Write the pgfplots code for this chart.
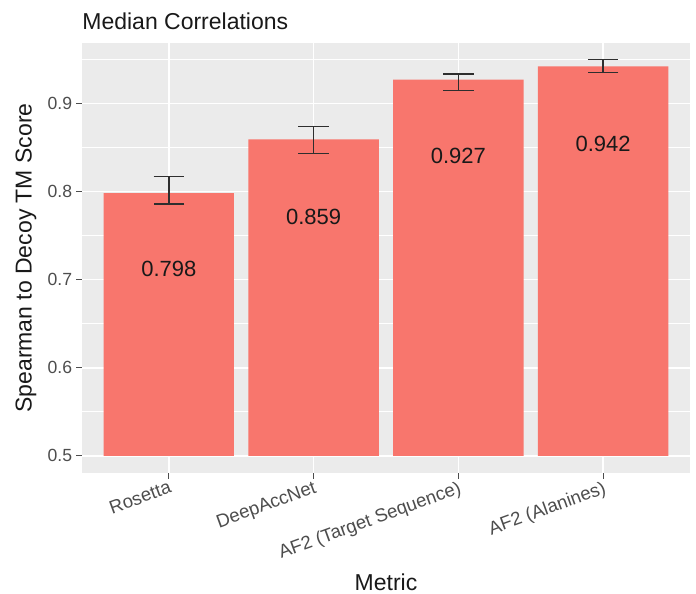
\documentclass[border=0pt]{standalone}
\usepackage{pgfplots}
\pgfplotsset{compat=1.18}
\usepackage{fontspec}
\setmainfont{Liberation Sans}
\definecolor{barc}{HTML}{F8766D}
\definecolor{panel}{HTML}{EBEBEB}
\definecolor{tickgrey}{HTML}{4D4D4D}
\definecolor{errc}{HTML}{2E2E2E}
\pgfplotsset{
  common/.style={
    scale only axis, width=304pt, height=215pt,
    xmin=0.4, xmax=4.6, ymin=0.4805, ymax=0.9685,
    clip=true,
  }
}
\begin{document}
\begin{tikzpicture}
\useasboundingbox (-41pt,-60.5pt) rectangle (307pt,236.5pt);
\begin{axis}[
  common,
  ybar stacked, bar width=0.9,
  axis background/.style={fill=panel},
  axis line style={draw=none},
  xtick={1,2,3,4},
  xticklabels={Rosetta,DeepAccNet,AF2 (Target Sequence),AF2 (Alanines)},
  ytick={0.5,0.6,0.7,0.8,0.9},
  yticklabels={0.5,0.6,0.7,0.8,0.9},
  minor ytick={0.55,0.65,0.75,0.85,0.95},
  xtick pos=lower, ytick pos=left,
  grid=both,
  major grid style={white, line width=0.8pt},
  minor grid style={white, line width=0.4pt},
  tick style={tickgrey, line width=0.5pt},
  tick align=outside, major tick length=2.75pt, minor tick length=0pt,
  ticklabel style={text=tickgrey},
  x tick label style={rotate=20, anchor=north east, inner sep=0.5pt, font=\fontsize{9.3}{10}\selectfont},
  y tick label style={inner sep=2pt, font=\fontsize{8.8}{10}\selectfont},
  title={Median Correlations},
  title style={at={(axis description cs:0,1)}, anchor=base west, inner sep=0pt, yshift=1pt, font=\fontsize{11.5}{13}\selectfont, text=black!90},
  xlabel={Metric},
  xlabel style={at={(axis description cs:0.5,0)}, anchor=base, yshift=-58.5pt, font=\fontsize{11.5}{13}\selectfont, text=black!90},
  ylabel={Spearman to Decoy TM Score},
  ylabel style={at={(axis description cs:-0.0921,0.5)}, anchor=center, font=\fontsize{11.5}{13}\selectfont, text=black!90},
]
\addplot[draw=none, fill=none] coordinates {(1,0.5) (2,0.5) (3,0.5) (4,0.5)};
\addplot[draw=none, fill=barc] coordinates {(1,0.298) (2,0.359) (3,0.427) (4,0.442)};
\end{axis}
\begin{axis}[common, hide axis]
\addplot[draw=none, mark=none,
  error bars/.cd, y dir=both, y explicit, error mark=|,
  error bar style={draw=errc, line width=0.75pt},
  error mark options={draw=errc, mark size=7.6pt, line width=0.75pt}]
  coordinates {
    (1,0.798) += (0,0.019) -= (0,0.0125)
    (2,0.859) += (0,0.015) -= (0,0.016)
    (3,0.927) += (0,0.0065) -= (0,0.0125)
    (4,0.942) += (0,0.008) -= (0,0.007)
  };
\addplot[draw=none, mark=none,
  nodes near coords, point meta=explicit symbolic,
  nodes near coords style={anchor=center, font=\fontsize{11}{13}\selectfont, text=black!90}]
  table[meta=label] {
    x y label
    1 0.712 0.798
    2 0.771 0.859
    3 0.840 0.927
    4 0.854 0.942
  };
\end{axis}
\end{tikzpicture}
\end{document}
